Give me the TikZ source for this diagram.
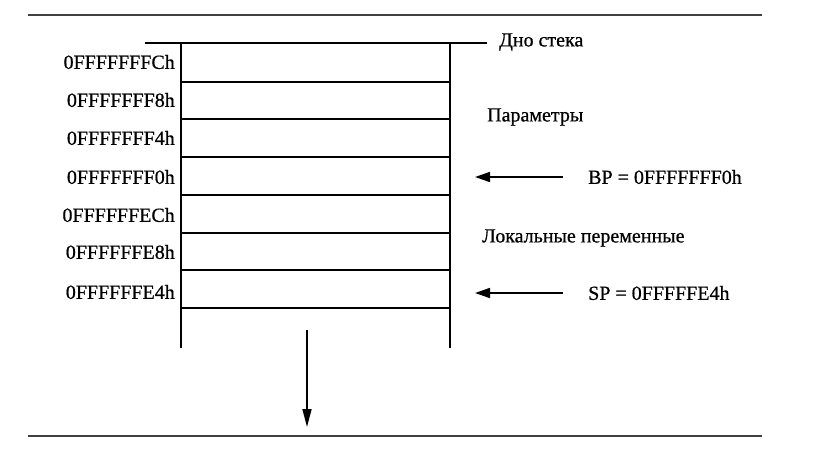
\documentclass[tikz,border=0pt]{standalone}
\usepackage{fontspec}
\setmainfont{Liberation Serif}[FakeBold=0.7]
\usetikzlibrary{arrows.meta}
\begin{document}
\begin{tikzpicture}[x=1pt,y=-1pt,
  txt/.style={font=\fontsize{20}{22}\selectfont, inner sep=0pt},
  addr/.style={txt, anchor=east},
  pagerule/.style={line width=1.6pt, black!75},
  wallline/.style={line width=1.8pt},
  sepline/.style={line width=1.6pt},
  ptrarrow/.style={line width=1.6pt, -{Triangle[length=15pt,width=10pt]}},
  growarrow/.style={line width=1.6pt, -{Triangle[length=18pt,width=9pt]}}]
\useasboundingbox (0,0) rectangle (826,450);
% page rules
\coordinate (r1a) at (28,15); \coordinate (r1b) at (762,15);
\coordinate (r2a) at (28,436); \coordinate (r2b) at (762,436);
\draw[pagerule] (r1a) -- (r1b);
\draw[pagerule] (r2a) -- (r2b);
% stack bottom
\node[txt, anchor=west] (bottom) at (499,42) {Дно стека};
\coordinate (bl) at (145,43);
\coordinate (br) at (487,43);
\draw[line width=2.8pt] (bl) -- (br);
% walls
\coordinate (lt) at (181,43); \coordinate (lb) at (181,348);
\coordinate (rt) at (450,43); \coordinate (rb) at (450,348);
\draw[wallline] (lt) -- (lb);
\draw[wallline] (rt) -- (rb);
% separators
\foreach \y in {82,119,157,195,233,270,308}
  \draw[sepline] (181,\y) -- (450,\y);
% address labels
\node[addr] (a1) at (175,62) {0FFFFFFFCh};
\node[addr] (a2) at (175,100) {0FFFFFFF8h};
\node[addr] (a3) at (175,138) {0FFFFFFF4h};
\node[addr] (a4) at (175,177) {0FFFFFFF0h};
\node[addr] (a5) at (175,215) {0FFFFFFECh};
\node[addr] (a6) at (175,252) {0FFFFFFE8h};
\node[addr] (a7) at (175,292) {0FFFFFFE4h};
% right side texts
\node[txt, anchor=west] (par) at (487,117) {Параметры};
\node[txt, anchor=west] (loc) at (482,238) {Локальные переменные};
\node[txt, anchor=west] (bp) at (588,177) {BP = 0FFFFFFF0h};
\node[txt, anchor=west] (sp) at (588,293) {SP = 0FFFFFE4h};
% pointers
\coordinate (bps) at (563,177); \coordinate (bpe) at (475,177);
\coordinate (sps) at (563,293); \coordinate (spe) at (475,293);
\draw[ptrarrow] (bps) -- (bpe);
\draw[ptrarrow] (sps) -- (spe);
% growth direction
\coordinate (gs) at (307,330); \coordinate (ge) at (307,427);
\draw[growarrow] (gs) -- (ge);
\end{tikzpicture}
\end{document}
